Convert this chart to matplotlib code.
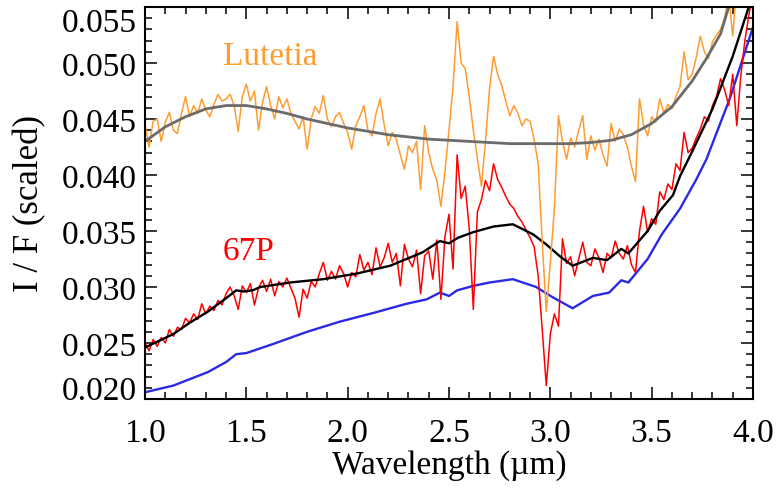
import numpy as np
import matplotlib
matplotlib.use("Agg")
import matplotlib.pyplot as plt
from matplotlib.ticker import AutoMinorLocator

# ---- Data ----
# spectra sampled every 0.02 um from 1.0 to 4.0
wl = np.linspace(1.0, 4.0, 151)

p67_raw = [
    0.0250, 0.0243, 0.0253, 0.0247, 0.0255, 0.0250, 0.0262, 0.0256, 0.0264, 0.0262,
    0.0272, 0.0268, 0.0276, 0.0271, 0.0285, 0.0276, 0.0283, 0.0279, 0.0288, 0.0284,
    0.0294, 0.0300, 0.0292, 0.0280, 0.0301, 0.0295, 0.0303, 0.0284, 0.0299, 0.0306,
    0.0296, 0.0307, 0.0292, 0.0305, 0.0300, 0.0308, 0.0299, 0.0290, 0.0273, 0.0298,
    0.0290, 0.0305, 0.0300, 0.0312, 0.0322, 0.0306, 0.0314, 0.0307, 0.0319, 0.0312,
    0.0300, 0.0313, 0.0309, 0.0329, 0.0315, 0.0322, 0.0311, 0.0335, 0.0318, 0.0326,
    0.0339, 0.0322, 0.0330, 0.0301, 0.0338, 0.0325, 0.0318, 0.0333, 0.0294, 0.0328,
    0.0332, 0.0307, 0.0342, 0.0289, 0.0345, 0.0365, 0.0316, 0.0418, 0.0379, 0.0390,
    0.0352, 0.0280, 0.0367, 0.0378, 0.0395, 0.0386, 0.0410, 0.0396, 0.0389, 0.0381,
    0.0374, 0.0370, 0.0363, 0.0358, 0.0351, 0.0344, 0.0336, 0.0310, 0.0262, 0.0212,
    0.0258, 0.0276, 0.0265, 0.0343, 0.0321, 0.0327, 0.0310, 0.0325, 0.0340, 0.0322,
    0.0319, 0.0334, 0.0326, 0.0313, 0.0330, 0.0326, 0.0341, 0.0330, 0.0325, 0.0337,
    0.0320, 0.0313, 0.0350, 0.0372, 0.0349, 0.0361, 0.0356, 0.0385, 0.0378, 0.0392,
    0.0387, 0.0410, 0.0404, 0.0438, 0.0420, 0.0424, 0.0433, 0.0441, 0.0452, 0.0448,
    0.0462, 0.0470, 0.0486, 0.0476, 0.0462, 0.0490, 0.0444, 0.0489, 0.0520, 0.0543,
    0.0565,
]

lutetia_raw = [
    0.0445, 0.0425, 0.0448, 0.0450, 0.0430, 0.0447, 0.0456, 0.0440, 0.0437, 0.0455,
    0.0470, 0.0452, 0.0462, 0.0455, 0.0468, 0.0458, 0.0452, 0.0463, 0.0472, 0.0466,
    0.0468, 0.0472, 0.0462, 0.0439, 0.0470, 0.0481, 0.0466, 0.0475, 0.0440, 0.0465,
    0.0479, 0.0462, 0.0450, 0.0470, 0.0460, 0.0468, 0.0455, 0.0448, 0.0441, 0.0452,
    0.0423, 0.0450, 0.0461, 0.0455, 0.0471, 0.0450, 0.0443, 0.0452, 0.0456, 0.0446,
    0.0438, 0.0423, 0.0444, 0.0452, 0.0462, 0.0440, 0.0435, 0.0455, 0.0468, 0.0445,
    0.0426, 0.0438, 0.0432, 0.0418, 0.0405, 0.0426, 0.0420, 0.0430, 0.0387, 0.0444,
    0.0420, 0.0405, 0.0395, 0.0372, 0.0403, 0.0440, 0.0479, 0.0537, 0.0500, 0.0495,
    0.0470, 0.0440, 0.0415, 0.0390, 0.0430, 0.0477, 0.0506, 0.0490, 0.0480, 0.0466,
    0.0453, 0.0462, 0.0455, 0.0444, 0.0450, 0.0448, 0.0432, 0.0410, 0.0340, 0.0278,
    0.0322, 0.0370, 0.0453, 0.0430, 0.0414, 0.0433, 0.0425, 0.0440, 0.0453, 0.0414,
    0.0435, 0.0422, 0.0432, 0.0418, 0.0408, 0.0446, 0.0430, 0.0441, 0.0436, 0.0425,
    0.0408, 0.0394, 0.0468, 0.0445, 0.0435, 0.0452, 0.0447, 0.0468, 0.0455, 0.0463,
    0.0459, 0.0470, 0.0479, 0.0510, 0.0485, 0.0490, 0.0505, 0.0524, 0.0510, 0.0504,
    0.0519, 0.0525, 0.0530, 0.0540, 0.0560, 0.0524, 0.0570, np.nan, np.nan, np.nan,
    np.nan,
]

# smooth Lutetia continuum (grey)
lut_fit_wl = [1.0, 1.1, 1.2, 1.3, 1.4, 1.5, 1.6, 1.7, 1.8, 1.9, 2.0, 2.1, 2.2, 2.3,
              2.4, 2.5, 2.6, 2.7, 2.8, 2.9, 3.0, 3.1, 3.2, 3.3, 3.4, 3.5, 3.6, 3.7,
              3.77, 3.84, 3.9]
lut_fit = [0.0430, 0.0443, 0.0452, 0.0459, 0.0462, 0.0462, 0.0459, 0.0455, 0.0450,
           0.0446, 0.0442, 0.0439, 0.0436, 0.0434, 0.0432, 0.0431, 0.0430, 0.0429,
           0.0428, 0.0428, 0.0428, 0.0428, 0.0429, 0.0431, 0.0436, 0.0446, 0.0461,
           0.0484, 0.0504, 0.0526, 0.0562]

# smoothed 67P spectrum (black)
p67_smooth_wl = [1.0, 1.14, 1.22, 1.31, 1.40, 1.45, 1.485, 1.53, 1.57, 1.715, 1.88,
                 2.045, 2.21, 2.37, 2.455, 2.50, 2.545, 2.62, 2.72, 2.815, 2.915,
                 2.98, 3.05, 3.11, 3.21, 3.28, 3.35, 3.385, 3.48, 3.54, 3.605, 3.64,
                 3.70, 3.80, 3.90, 3.97, 4.0]
p67_smooth = [0.0246, 0.0258, 0.0268, 0.0278, 0.0290, 0.0297, 0.0296, 0.0297, 0.0300,
              0.0304, 0.0307, 0.0312, 0.0319, 0.0331, 0.0341, 0.0339, 0.0344, 0.0349,
              0.0354, 0.0356, 0.0347, 0.0338, 0.0327, 0.0319, 0.0326, 0.0324, 0.0334,
              0.0330, 0.0350, 0.0368, 0.0382, 0.0399, 0.0421, 0.0459, 0.0506, 0.0545,
              0.0562]

# lower (blue) spectrum
blue_wl = [1.0, 1.14, 1.31, 1.40, 1.45, 1.50, 1.63, 1.80, 1.96, 2.13, 2.29, 2.39,
           2.455, 2.50, 2.54, 2.62, 2.70, 2.815, 2.93, 3.01, 3.11, 3.21, 3.29, 3.35,
           3.385, 3.48, 3.55, 3.64, 3.72, 3.77, 3.885, 4.0]
blue = [0.0206, 0.0212, 0.0224, 0.0233, 0.0240, 0.0241, 0.0249, 0.0260, 0.0269,
        0.0277, 0.0285, 0.0289, 0.0295, 0.0292, 0.0297, 0.0301, 0.0304, 0.0307,
        0.0300, 0.0291, 0.0281, 0.0292, 0.0295, 0.0306, 0.0304, 0.0325, 0.0347,
        0.0370, 0.0396, 0.0414, 0.0468, 0.0532]

xticks = [1.0, 1.5, 2.0, 2.5, 3.0, 3.5, 4.0]
yticks = [0.020, 0.025, 0.030, 0.035, 0.040, 0.045, 0.050, 0.055]

# ---- Style ----
plt.rcParams.update({
    "font.family"      : ["Liberation Serif", "DejaVu Serif"],
    "font.size"        : 24,
    "axes.linewidth"   : 1.5,
    "xtick.direction"  : "in",
    "ytick.direction"  : "in",
    "xtick.top"        : True,
    "ytick.right"      : True,
    "xtick.major.size" : 8.5,
    "ytick.major.size" : 8.5,
    "xtick.minor.size" : 5,
    "ytick.minor.size" : 5,
    "xtick.major.width": 1.1,
    "ytick.major.width": 1.1,
    "xtick.minor.width": 1.1,
    "ytick.minor.width": 1.1,
})

fig = plt.figure(figsize=(7.78, 4.89), dpi=100)
ax = fig.add_axes([145 / 778, 89 / 489, 608 / 778, 392 / 489])

ax.plot(blue_wl, blue, color="#2a2ae6", lw=1.7)
ax.plot(wl, p67_raw, color="#ff0000", lw=1.1)
ax.plot(p67_smooth_wl, p67_smooth, color="black", lw=1.7)
ax.plot(wl, lutetia_raw, color="#ff9c30", lw=1.1)
ax.plot(lut_fit_wl, lut_fit, color="#6b6b6b", lw=2.0)

ax.set_xlim(1.0, 4.0)
ax.set_ylim(0.020, 0.055)

ax.set_xticks(xticks, labels=[f"{v:.1f}" for v in xticks])
ax.set_yticks(yticks, labels=[f"{v:.3f}" for v in yticks])
ylabels = ax.get_yticklabels()
ylabels[-1].set_va("top")
ylabels[0].set_va("baseline")
ax.xaxis.set_minor_locator(AutoMinorLocator(5))
ax.yaxis.set_minor_locator(AutoMinorLocator(5))
ax.tick_params(axis="x", pad=13)
ax.tick_params(axis="y", pad=6)

ax.set_xlabel("Wavelength (µm)", labelpad=1)
ax.set_ylabel("I / F (scaled)", fontsize=25, labelpad=11)

ax.text(0.128, 0.855, "Lutetia", transform=ax.transAxes, color="#ff9c30",
        fontsize=24, va="baseline")
ax.text(0.128, 0.357, "67P", transform=ax.transAxes, color="#ff0000",
        fontsize=24, va="baseline")

fig.savefig("out.png", dpi=100)
